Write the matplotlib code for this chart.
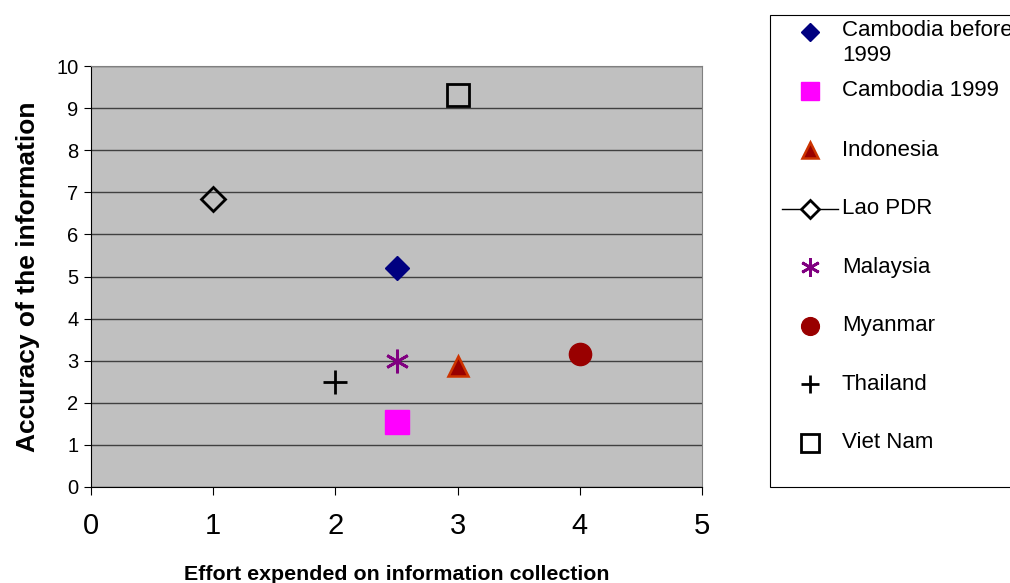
import matplotlib.pyplot as plt
from matplotlib.lines import Line2D
from matplotlib.patches import Rectangle

plt.rcParams["font.family"] = ["Liberation Sans", "DejaVu Sans"]

countries = ["Cambodia before\n1999", "Cambodia 1999", "Indonesia", "Lao PDR",
             "Malaysia", "Myanmar", "Thailand", "Viet Nam"]
effort = [2.5, 2.5, 3.0, 1.0, 2.5, 4.0, 2.0, 3.0]
accuracy = [5.2, 1.55, 2.87, 6.85, 3.0, 3.15, 2.5, 9.3]

asterisk = (6, 2, 0)
markers = ["D", "s", "^", "D", asterisk, "o", "+", "s"]
faces = ["#000080", "#FF00FF", "#990000", "none", "#800080", "#990000", "black", "none"]
edges = ["#000080", "#FF00FF", "#CC3300", "black", "#800080", "#990000", "black", "black"]
sizes = [12, 17, 15, 12, 17, 16, 17, 16]
widths = [1, 1, 1.8, 2, 2, 1, 2, 2]

W, H = 1010, 583
fig = plt.figure(figsize=(W / 100, H / 100), dpi=100)
ax = fig.add_axes([91 / W, 1 - 487 / H, 611 / W, 421 / H])
ax.set_facecolor("#C0C0C0")

for i in range(len(countries)):
    ax.plot(effort[i], accuracy[i], marker=markers[i], linestyle="none",
            markerfacecolor=faces[i], markeredgecolor=edges[i],
            markersize=sizes[i], markeredgewidth=widths[i], clip_on=False, zorder=3)

ax.set_xlim(0, 5)
ax.set_ylim(0, 10)
ax.set_xticks(range(6))
ax.set_yticks(range(11))
ax.tick_params(axis="x", labelsize=21, direction="out", length=6, pad=12)
ax.tick_params(axis="y", labelsize=14.5, direction="out", length=5, pad=4)
ax.grid(axis="y", color="#404040", lw=1)
ax.set_axisbelow(True)
for s in ["top", "right"]:
    ax.spines[s].set_color("#808080")

ax.set_xlabel("Effort expended on information collection", fontsize=15.4,
              fontweight="bold", labelpad=18)
ax.set_ylabel("Accuracy of the information", fontsize=19, fontweight="bold", labelpad=12)

# legend drawn by hand, it runs off the right edge like the original
fx = lambda px: px / W
fy = lambda py: 1 - py / H
fig.add_artist(Rectangle((fx(770), fy(487)), fx(400), 472 / H, transform=fig.transFigure,
                         facecolor="white", edgecolor="black", lw=0.8))
row_y = [32, 91, 150, 209, 267, 326, 384, 443]
for i in range(len(countries)):
    y = fy(row_y[i])
    if i == 3:
        fig.add_artist(Line2D([fx(782), fx(838)], [y, y], transform=fig.transFigure,
                              color="black", lw=1))
    fig.add_artist(Line2D([fx(810)], [y], transform=fig.transFigure, marker=markers[i],
                          linestyle="none", markerfacecolor=faces[i] if i != 3 else "white",
                          markeredgecolor=edges[i], markersize=sizes[i] * 0.8,
                          markeredgewidth=widths[i]))
    if i == 0:
        fig.text(fx(842), fy(row_y[i] - 12), countries[i], fontsize=16, va="top",
                 ha="left", linespacing=1.25)
    else:
        fig.text(fx(842), y, countries[i], fontsize=16, va="center", ha="left")

fig.savefig("out.png", dpi=100)
